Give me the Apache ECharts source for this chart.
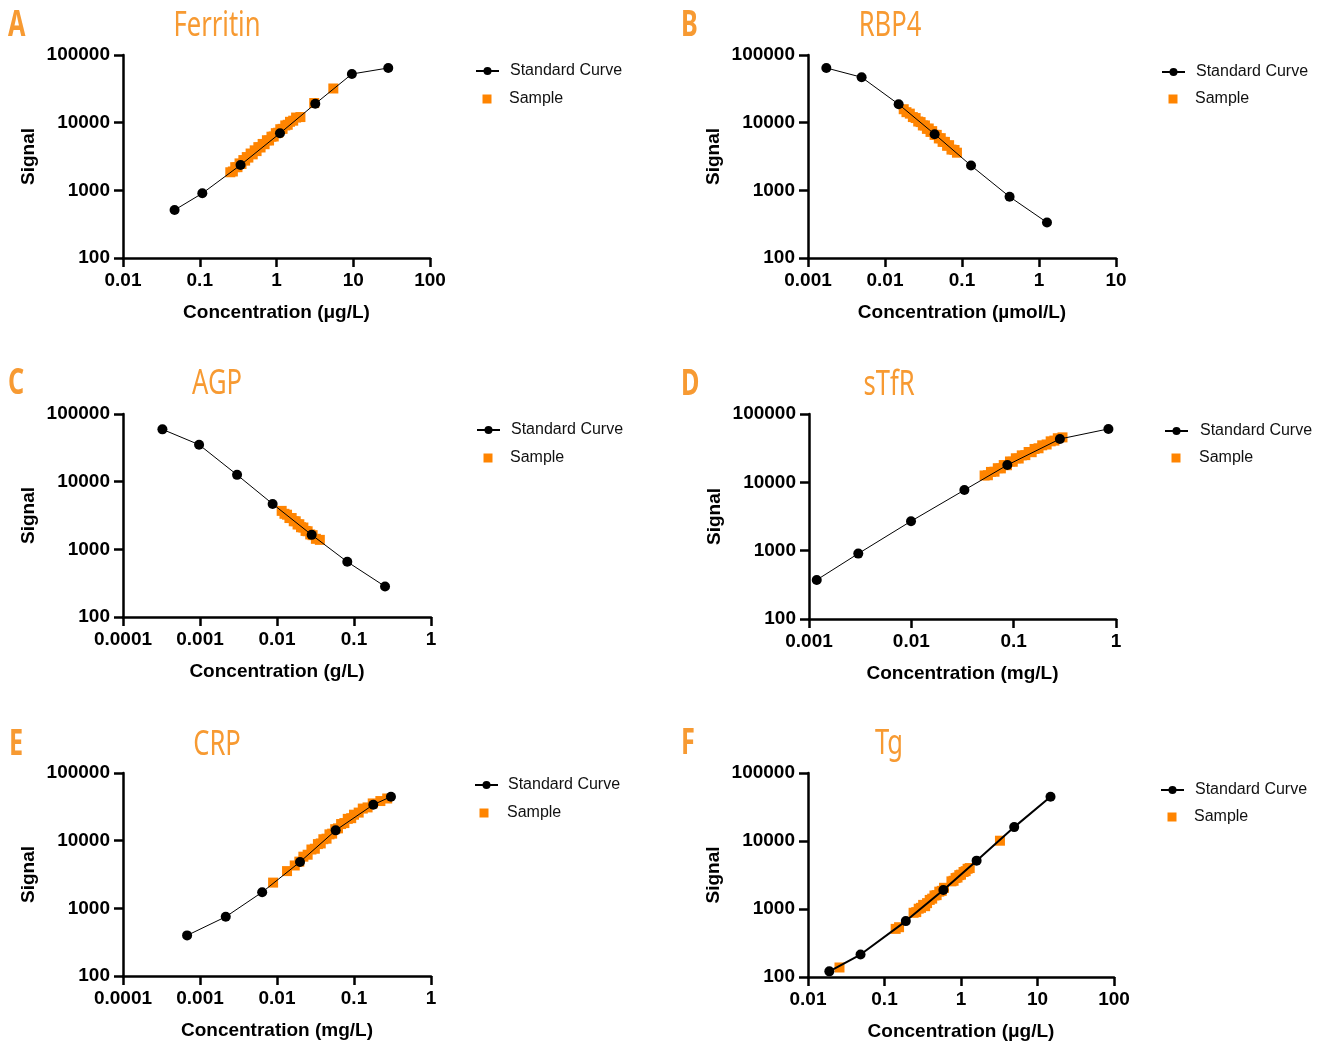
<!DOCTYPE html>
<html>
<head>
<meta charset="utf-8">
<title>Standard curves</title>
<script src="https://cdn.jsdelivr.net/npm/echarts@6/dist/echarts.min.js"></script>
<style>
  html, body { margin: 0; padding: 0; background: #fff; }
  #chart { width: 1321px; height: 1042px; }
</style>
</head>
<body>
<div id="chart"></div>
<script>
// panel texts
var panelLetters = ['A', 'B', 'C', 'D', 'E', 'F'];
var panelNames = ['Ferritin', 'RBP4', 'AGP', 'sTfR', 'CRP', 'Tg'];
var xAxisNames = ['Concentration (\u03bcg/L)', 'Concentration (\u00b5mol/L)', 'Concentration (g/L)',
                  'Concentration (mg/L)', 'Concentration (mg/L)', 'Concentration (\u03bcg/L)'];
var xMins = [0.01, 0.001, 0.0001, 0.001, 0.0001, 0.01];
var xMaxs = [100, 10, 1, 1, 1, 100];
var yMin = 100, yMax = 100000;

// A - Ferritin
var ferritinStdX = [0.047, 0.108, 0.34, 1.11, 3.2, 9.6, 28.6];
var ferritinStdY = [512, 903, 2366, 6970, 19000, 52400, 64300];
var ferritinSampleX = [0.25, 0.27, 0.29, 0.31, 0.33, 0.35, 0.37, 0.39, 0.41, 0.43, 0.46, 0.49, 0.52, 0.55, 0.58, 0.62, 0.66,
                       0.70, 0.75, 0.80, 0.86, 0.92, 0.98, 1.05, 1.12, 1.2, 1.3, 1.4, 1.5, 1.65, 1.8, 2.05, 3.1, 5.5];
var ferritinSampleY = [1850, 1900, 2200, 2200, 2500, 2450, 2800, 2750, 3100, 3050, 3500, 3400, 3900, 3800, 4350, 4300, 4850,
                       4800, 5500, 5450, 6200, 6250, 7000, 7100, 8000, 8100, 9100, 9300, 10300, 10700, 11900, 12100, 19500, 32000];

// B - RBP4
var rbp4StdX = [0.00173, 0.00497, 0.01504, 0.0441, 0.131, 0.415, 1.27];
var rbp4StdY = [64300, 46900, 18700, 6760, 2323, 804, 335];
var rbp4SampleX = [0.0175, 0.019, 0.021, 0.023, 0.025, 0.027, 0.029, 0.031, 0.033, 0.035, 0.037, 0.039,
                   0.041, 0.044, 0.047, 0.05, 0.053, 0.056, 0.06, 0.064, 0.068, 0.073, 0.08, 0.086];
var rbp4SampleY = [15800, 14300, 13600, 12100, 11700, 10400, 10200, 9100, 9100, 8100, 8200, 7300,
                   7500, 6600, 6600, 5850, 5900, 5200, 5200, 4550, 4650, 4000, 3950, 3600];

// C - AGP
var agpStdX = [0.000325, 0.000973, 0.00303, 0.00877, 0.0282, 0.0818, 0.253];
var agpStdY = [59300, 35200, 12600, 4690, 1637, 654, 283];
var agpSampleX = [0.0115, 0.0125, 0.0135, 0.0145, 0.0155, 0.0165, 0.0175, 0.0185, 0.0195, 0.0205,
                  0.022, 0.0235, 0.025, 0.027, 0.029, 0.032, 0.036];
var agpSampleY = [3700, 3350, 3250, 2900, 2900, 2600, 2600, 2330, 2350, 2120,
                  2100, 1870, 1850, 1660, 1620, 1430, 1380];

// D - sTfR
var stfrStdX = [0.00119, 0.00303, 0.00993, 0.033, 0.0867, 0.283, 0.843];
var stfrStdY = [373, 906, 2700, 7710, 17900, 43100, 60500];
var stfrSampleX = [0.052, 0.056, 0.06, 0.065, 0.07, 0.075, 0.08, 0.086, 0.092, 0.098, 0.105, 0.112,
                   0.12, 0.13, 0.14, 0.15, 0.16, 0.175, 0.19, 0.21, 0.23, 0.25, 0.27, 0.3];
var stfrSampleY = [12600, 12700, 14200, 14300, 16100, 16000, 17900, 17800, 20200, 20000, 22500, 22300,
                   24800, 25000, 27800, 27600, 30800, 31500, 34800, 35800, 39800, 40800, 44200, 45500];

// E - CRP
var crpStdX = [0.00068, 0.00216, 0.00642, 0.0199, 0.0578, 0.178, 0.302];
var crpStdY = [398, 750, 1733, 4850, 14200, 34000, 44700];
var crpSampleX = [0.0089, 0.0135, 0.017, 0.0195, 0.022, 0.025, 0.028, 0.031, 0.034, 0.037, 0.04, 0.044, 0.048, 0.052,
                  0.057, 0.062, 0.068, 0.075, 0.083, 0.092, 0.1, 0.115, 0.13, 0.15, 0.175, 0.22, 0.27];
var crpSampleY = [2400, 3550, 4300, 4900, 5800, 6200, 7400, 7600, 8900, 9100, 10500, 10700, 12400, 12700,
                  14800, 15200, 17600, 18200, 21000, 21500, 24200, 26000, 29800, 31000, 35500, 38500, 42000];

// F - Tg
var tgStdX = [0.019, 0.0486, 0.19, 0.588, 1.6, 4.96, 14.8];
var tgStdY = [121, 214, 664, 1900, 5140, 16000, 44700];
var tgSampleX = [0.0258, 0.14, 0.155, 0.24, 0.26, 0.28, 0.3, 0.32, 0.34, 0.36, 0.39, 0.42, 0.45, 0.48, 0.52, 0.56, 0.6,
                 0.75, 0.8, 0.85, 0.9, 0.95, 1.0, 1.08, 1.15, 1.22, 1.3, 3.23];
var tgSampleY = [138, 510, 540, 880, 900, 1010, 1040, 1150, 1100, 1220, 1360, 1420, 1580, 1600, 1800, 1850, 2050,
                 2550, 2600, 2850, 2900, 3150, 3200, 3500, 3600, 3900, 4000, 10100];

var stdX = [ferritinStdX, rbp4StdX, agpStdX, stfrStdX, crpStdX, tgStdX];
var stdY = [ferritinStdY, rbp4StdY, agpStdY, stfrStdY, crpStdY, tgStdY];
var sampleX = [ferritinSampleX, rbp4SampleX, agpSampleX, stfrSampleX, crpSampleX, tgSampleX];
var sampleY = [ferritinSampleY, rbp4SampleY, agpSampleY, stfrSampleY, crpSampleY, tgSampleY];

// layout (px)
var gridBoxes = [[123, 55, 307, 203], [808, 55, 308, 203], [123, 414, 308, 203],
                 [809, 414, 307, 205], [123, 773, 308, 203], [808, 773, 306, 204]];
var letterPos = [[8, 26], [681, 26], [8, 384], [681, 385], [9, 745], [681, 744]];   // left, middle y
var namePos = [[217, 26], [890, 26], [217, 384], [889, 385], [217, 745], [889, 744]];
var stdLegendPos = [[475, 69, 509], [1161, 70, 1195], [476, 428, 510], [1164, 429, 1199], [474, 783, 507], [1160, 788, 1194]];
var sampleLegendPos = [[487, 97], [1173, 97], [488, 456], [1176, 456], [484, 811], [1172, 815]];
var lineWidths = [1, 1, 1, 1, 1, 2];

var ORANGE_TITLE = '#F79A32';
var ORANGE = '#FF8400';
var TITLE_FONT = "'Noto Sans', 'DejaVu Sans', sans-serif";
var FONT = "'Liberation Sans', Arial, sans-serif";

function zip(xs, ys) {
  var out = [];
  for (var i = 0; i < xs.length; i++) out.push([xs[i], ys[i]]);
  return out;
}

function fmt(v) {
  return String(+(+v).toPrecision(6));
}

var graphics = [], grids = [], xAxes = [], yAxes = [], series = [], legends = [];

for (var i = 0; i < 6; i++) {
  // condensed orange headings (text squeezed horizontally)
  graphics.push({
    type: 'text', x: letterPos[i][0], y: letterPos[i][1], scaleX: 0.72,
    style: { text: panelLetters[i], fill: ORANGE_TITLE, font: 'bold 35px ' + TITLE_FONT,
             textAlign: 'left', textVerticalAlign: 'middle' }
  });
  graphics.push({
    type: 'text', x: namePos[i][0], y: namePos[i][1], scaleX: 0.73,
    style: { text: panelNames[i], fill: ORANGE_TITLE, font: '35px ' + TITLE_FONT,
             textAlign: 'center', textVerticalAlign: 'middle' }
  });

  grids.push({
    left: gridBoxes[i][0], top: gridBoxes[i][1], width: gridBoxes[i][2], height: gridBoxes[i][3],
    containLabel: false, outerBoundsMode: 'none'
  });

  var axisCommon = {
    type: 'log', logBase: 10, gridIndex: i,
    axisLine: { show: true, lineStyle: { color: '#000', width: 2.5 } },
    axisTick: { show: true, inside: false, length: 9, lineStyle: { color: '#000', width: 2.5 } },
    minorTick: { show: false },
    splitLine: { show: false },
    nameLocation: 'middle',
    nameTextStyle: { color: '#000', fontFamily: FONT, fontWeight: 'bold', fontSize: 19 }
  };

  xAxes.push(Object.assign({}, axisCommon, {
    min: xMins[i], max: xMaxs[i],
    name: xAxisNames[i], nameGap: 45,
    axisLabel: { color: '#000', fontFamily: FONT, fontWeight: 'bold', fontSize: 19, margin: 13,
                 showMinLabel: true, showMaxLabel: true, hideOverlap: false, formatter: fmt }
  }));
  yAxes.push(Object.assign({}, axisCommon, {
    min: yMin, max: yMax,
    name: 'Signal', nameGap: 85,
    axisLabel: { color: '#000', fontFamily: FONT, fontWeight: 'bold', fontSize: 19, margin: 13,
                 showMinLabel: true, showMaxLabel: true, hideOverlap: false, formatter: fmt }
  }));

  series.push({
    name: 'Sample', type: 'scatter', xAxisIndex: i, yAxisIndex: i, z: 2,
    symbol: 'rect', symbolSize: 10,
    itemStyle: { color: ORANGE, opacity: 1 },
    data: zip(sampleX[i], sampleY[i])
  });
  series.push({
    name: 'Standard Curve', type: 'line', xAxisIndex: i, yAxisIndex: i, z: 3,
    symbol: 'circle', symbolSize: 10, showSymbol: true,
    itemStyle: { color: '#000' },
    lineStyle: { color: '#000', width: lineWidths[i] },
    data: zip(stdX[i], stdY[i])
  });

  var sl = stdLegendPos[i];
  legends.push({
    data: ['Standard Curve'], left: sl[0], top: sl[1] - 6, padding: 0,
    itemWidth: 23, itemHeight: 10, selectedMode: false,
    lineStyle: { width: 2 },
    textStyle: { color: '#111', fontFamily: FONT, fontSize: 16, padding: [0, 0, 0, sl[2] - sl[0] - 23 - 5] }
  });
  var sm = sampleLegendPos[i];
  legends.push({
    data: [{ name: 'Sample', icon: 'rect' }], left: sm[0] - 4.5, top: sm[1] - 6, padding: 0,
    itemWidth: 9, itemHeight: 9, selectedMode: false,
    itemStyle: { opacity: 1 },
    textStyle: { color: '#111', fontFamily: FONT, fontSize: 16, padding: [0, 0, 0, sl[2] - sm[0] - 4.5 - 5] }
  });
}

var myChart = echarts.init(document.getElementById('chart'));
var option = {
  backgroundColor: '#fff',
  animation: false,
  graphic: graphics,
  grid: grids,
  xAxis: xAxes,
  yAxis: yAxes,
  legend: legends,
  series: series
};
myChart.setOption(option);
window.onresize = function () { myChart.resize(); };
</script>
</body>
</html>
